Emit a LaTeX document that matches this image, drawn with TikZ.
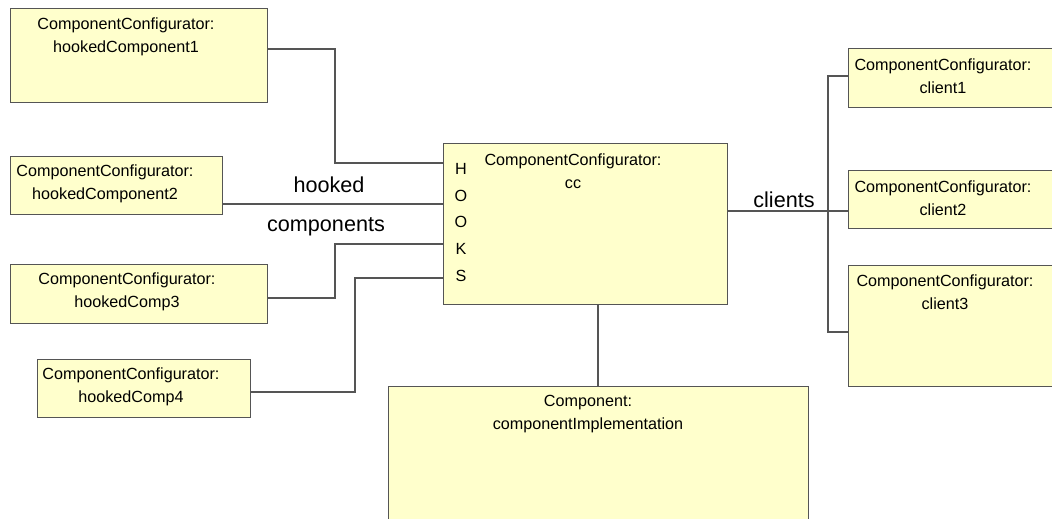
\documentclass[tikz,border=0pt]{standalone}
\usepackage{fontspec}
\setmainfont{Liberation Sans}
\usepackage{tikz}
\usetikzlibrary{positioning}
\definecolor{boxfill}{HTML}{FFFFCC}
\definecolor{boxline}{HTML}{555555}

\begin{document}
\begin{tikzpicture}[
    x=0.02cm, y=-0.02cm,
    box/.style={rectangle, draw=boxline, fill=boxfill, line width=0.7pt, inner sep=0pt, anchor=north west},
    txt/.style={align=center, inner sep=0pt, font=\fontsize{9.2}{13}\selectfont},
    lbl/.style={inner sep=0pt, font=\fontsize{12.3}{14}\selectfont},
    wire/.style={draw=boxline, line width=0.7pt}
]
\clip (0,0) rectangle (1052,518);
\node[box, minimum width=5.14cm, minimum height=1.88cm] (hc1) at (10,8) {};
\node[box, minimum width=4.24cm, minimum height=1.16cm] (hc2) at (10,156) {};
\node[box, minimum width=5.14cm, minimum height=1.18cm] (hc3) at (10,264) {};
\node[box, minimum width=4.26cm, minimum height=1.16cm] (hc4) at (37,359) {};
\node[box, minimum width=5.68cm, minimum height=3.22cm] (cc) at (443,143) {};
\node[box, minimum width=8.40cm, minimum height=3.40cm] (ci) at (388,386) {};
\node[box, minimum width=4.80cm, minimum height=1.18cm] (cl1) at (848,48) {};
\node[box, minimum width=4.80cm, minimum height=1.16cm] (cl2) at (848,170) {};
\node[box, minimum width=4.80cm, minimum height=2.42cm] (cl3) at (848,265) {};

\node[txt] (hc1t) at (126,36.5) {ComponentConfigurator:\\hookedComponent1};
\node[txt] (hc2t) at (105,183.5) {ComponentConfigurator:\\hookedComponent2};
\node[txt] (hc3t) at (127,292) {ComponentConfigurator:\\hookedComp3};
\node[txt] (hc4t) at (131,387) {ComponentConfigurator:\\hookedComp4};
\node[txt] (cct) at (573,171.5) {ComponentConfigurator:\\cc};
\node[txt, font=\fontsize{9.2}{15.2}\selectfont] (hooks) at (461,222.5) {H\\O\\O\\K\\S};
\node[txt] (cit) at (588,414) {Component:\\componentImplementation};
\node[txt] (cl1t) at (943,76.5) {ComponentConfigurator:\\client1};
\node[txt] (cl2t) at (943,198.5) {ComponentConfigurator:\\client2};
\node[txt] (cl3t) at (945,292.5) {ComponentConfigurator:\\client3};

\node[lbl] (hk) at (329,185) {hooked};
\node[lbl] (cp) at (326,227) {components};
\node[lbl] (cls) at (784,200) {clients};

\coordinate (fork) at (828,211);

\draw[wire] (hc1.east |- 0,49) -| (335,163) -- (cc.west |- 0,163);
\draw[wire] (hc2.east |- 0,204) -- (cc.west |- 0,204);
\draw[wire] (hc3.east |- 0,298) -| (335,244) -- (cc.west |- 0,244);
\draw[wire] (hc4.east |- 0,392) -| (355,278) -- (cc.west |- 0,278);
\draw[wire] (cc.south -| 598,0) -- (ci.north -| 598,0);
\draw[wire] (cc.east |- fork) -- (fork) -- (cl2.west |- fork);
\draw[wire] (cl1.west |- 0,76) -| (fork);
\draw[wire] (cl3.west |- 0,332) -| (fork);
\end{tikzpicture}
\end{document}
